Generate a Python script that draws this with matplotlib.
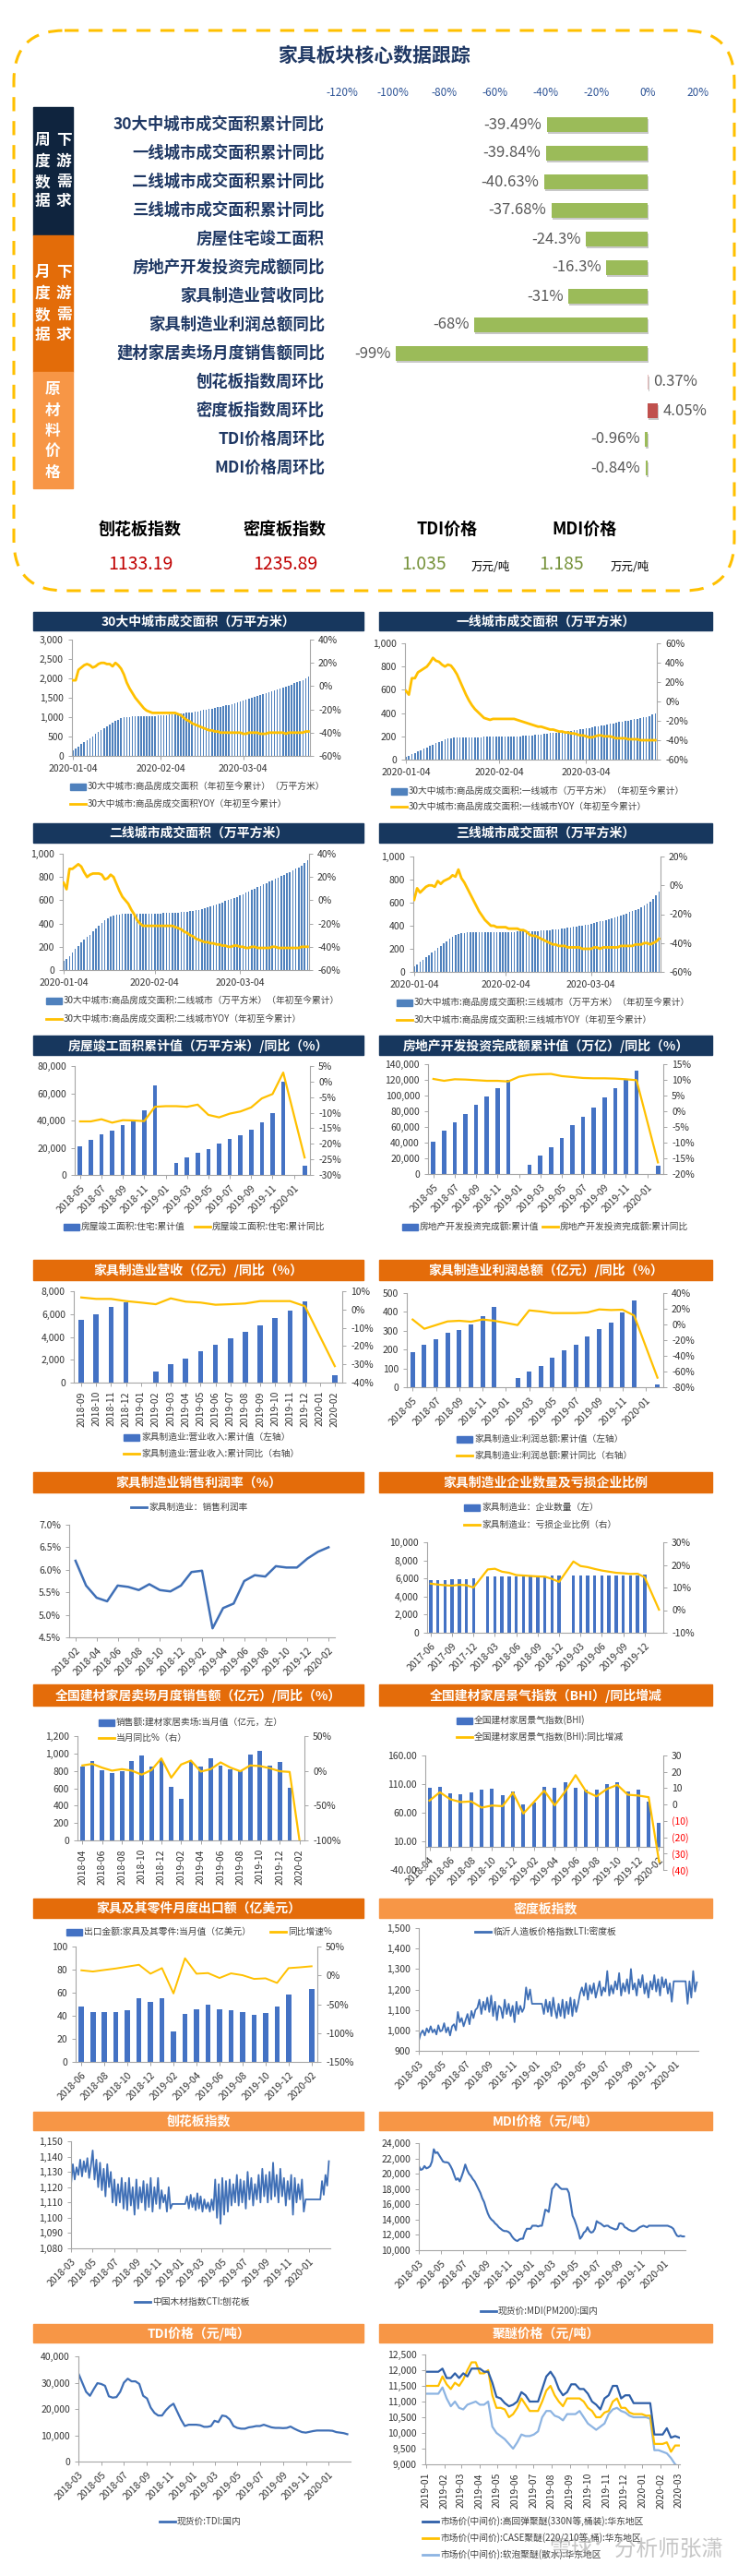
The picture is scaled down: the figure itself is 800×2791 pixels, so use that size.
import numpy as np
import pandas as pd
import matplotlib
matplotlib.use('Agg')
import matplotlib.pyplot as plt
from matplotlib.patches import Rectangle, FancyBboxPatch
from matplotlib.ticker import FuncFormatter

plt.rcParams['font.family'] = ['Noto Sans CJK SC', 'DejaVu Sans']
plt.rcParams['axes.unicode_minus'] = False

# ======================= DATA =======================
core_labels = ['30大中城市成交面积累计同比', '一线城市成交面积累计同比', '二线城市成交面积累计同比',
               '三线城市成交面积累计同比', '房屋住宅竣工面积', '房地产开发投资完成额同比',
               '家具制造业营收同比', '家具制造业利润总额同比', '建材家居卖场月度销售额同比',
               '刨花板指数周环比', '密度板指数周环比', 'TDI价格周环比', 'MDI价格周环比']
core_values = [-39.49, -39.84, -40.63, -37.68, -24.3, -16.3, -31, -68, -99, 0.37, 4.05, -0.96, -0.84]
core_texts = ['-39.49%', '-39.84%', '-40.63%', '-37.68%', '-24.3%', '-16.3%', '-31%', '-68%', '-99%',
              '0.37%', '4.05%', '-0.96%', '-0.84%']
core_ticks = [-120, -100, -80, -60, -40, -20, 0, 20]
group1 = ('周度数据', '下游需求')
group2 = ('月度数据', '下游需求')
group3 = '原材料价格'

summary_names = ['刨花板指数', '密度板指数', 'TDI价格', 'MDI价格']
summary_values = ['1133.19', '1235.89', '1.035', '1.185']
summary_unit = '万元/吨'

city_start = '2020-01-04'
city_ticks = ['2020-01-04', '2020-02-04', '2020-03-04']
c30_area = [150, 200, 250, 300, 360, 410, 460, 510, 560, 610, 660, 710, 760, 800, 850, 900, 940, 970, 990, 1000,
            1010, 1020, 1025, 1030, 1030, 1030, 1030, 1030, 1035, 1035, 1040, 1045,
            1050, 1055, 1060, 1065, 1070, 1080, 1090, 1100, 1110, 1120, 1130, 1140, 1150, 1165, 1180, 1195,
            1210, 1225, 1240, 1255, 1270, 1285, 1300, 1320, 1340, 1360, 1380, 1400, 1420,
            1445, 1470, 1495, 1520, 1545, 1570, 1595, 1620, 1645, 1670, 1695, 1720, 1745, 1770, 1795, 1820,
            1845, 1870, 1895, 1920, 1950, 1990, 2040]
c30_yoy = [5, 5, 14, 16, 18, 19, 18, 16, 17, 19, 20, 20, 19, 19, 17, 20, 18, 15, 10, 3,
           -2, -6, -10, -13, -16, -19, -21, -22,
           -23, -23, -23, -23, -23, -23, -23, -23, -23, -24,
           -25, -27, -29, -30, -32, -33, -34, -35, -36, -37, -38, -38, -39, -39, -40,
           -40, -40, -40, -40,
           -40, -40, -40, -41, -41, -40, -40, -40, -40, -41, -41, -41, -40, -40, -40, -40, -40, -40, -41, -40,
           -40, -40, -40, -40, -40, -39, -39]
t1_area = [20, 32, 44, 56, 68, 80, 92, 104, 116, 128, 140, 152, 162, 172, 180, 186, 190, 191, 192, 192,
           193, 193, 193, 194, 194, 194, 195, 195, 195, 196, 196, 197,
           197, 198, 198, 199, 200, 201, 202, 204, 206, 208, 210, 212, 215, 218, 221, 224,
           227, 230, 233, 236, 239, 242, 245, 248, 252, 256, 260, 264, 268,
           272, 277, 282, 287, 292, 297, 302, 307, 312, 317, 322, 327, 332, 337, 342, 347, 352, 357, 362, 368,
           375, 385, 395]
t1_yoy = [11, 7, 24, 24, 30, 32, 34, 36, 40, 45, 42, 41, 38, 36, 38, 37, 33, 28, 21, 14,
          7, 1, -4, -8, -11, -14, -17, -18,
          -19, -18, -18, -18, -18, -18, -18, -18, -18, -19,
          -20, -21, -22, -23, -24, -25, -26, -26, -27, -28, -29, -29, -30, -31, -31, -32, -32, -33, -33,
          -34, -35, -35, -36, -37, -37, -36, -35, -35, -36, -36, -36, -37, -38, -38, -38, -38, -39, -39, -39,
          -39, -40, -40, -40, -40, -40, -40]
t2_area = [80, 95, 120, 150, 180, 210, 240, 265, 285, 305, 330, 355, 380, 405, 425, 445, 460, 470, 478, 480,
           482, 483, 484, 484, 484, 484, 485, 485, 485, 485, 486, 486,
           487, 488, 489, 490, 491, 492, 494, 496, 498, 500, 503, 506, 509, 512, 518, 525,
           532, 540, 548, 556, 565, 574, 583, 592, 600, 610, 620, 630, 640,
           652, 664, 676, 688, 700, 712, 724, 736, 748, 760, 772, 784, 796, 808, 820, 832, 845, 858, 871, 884,
           900, 920, 945]
t2_yoy = [15, 9.5, 27, 27, 29, 31, 29, 24, 20, 22, 23, 23, 23, 22, 18, 19, 22, 20, 14, 8,
          3, 0, -3, -8, -12, -17, -20, -22,
          -22, -22, -22, -22, -22, -22, -22, -22, -22, -22,
          -23, -24, -25, -27, -28, -30, -31, -33, -34, -35, -36, -36, -37, -37, -38, -38, -39, -39, -40,
          -40, -39, -39, -40, -40, -41, -41, -40, -40, -41, -41, -41, -41, -41, -40, -40, -41, -41, -41, -41,
          -41, -41, -41, -41, -40, -40, -40]
t3_area = [50, 65, 85, 105, 125, 145, 165, 185, 205, 225, 245, 265, 285, 305, 320, 330, 337, 340, 342, 343,
           344, 344, 345, 345, 345, 345, 345, 346, 346, 346, 346, 347,
           347, 348, 348, 349, 350, 351, 352, 353, 354, 355, 356, 358, 360, 362, 364, 366,
           369, 372, 375, 378, 381, 385, 389, 393, 397, 402, 407, 412, 418,
           424, 430, 437, 444, 451, 458, 466, 474, 482, 490, 499, 508, 517, 527, 537, 548, 560, 573, 590, 610,
           635, 665, 700]
t3_yoy = [-10, -2, -5, -3, -1, 0, 0, -1, 3, 1, 3, 4, 5, 7, 6, 11, 5, 2, -2, -6,
          -10, -14, -18, -21, -24, -26, -28, -28,
          -29, -29, -29, -29, -30, -30, -30, -30, -31, -31,
          -32, -34, -35, -35, -36, -37, -38, -39, -40, -41, -41, -42, -42, -42, -43, -43, -43, -43, -43,
          -44, -44, -44, -44, -43, -43, -44, -43, -43, -43, -43, -43, -43, -42, -42, -42, -42, -42, -41, -41,
          -41, -40, -40, -41, -40, -39, -37]

nan = np.nan
# monthly, 2018-05 .. 2020-02
hc_area = [21000, 25800, 29500, 32500, 36500, 40300, 47300, 66000, nan, 9000, 13000, 16200, 19100, 23200,
           26300, 29300, 33100, 38700, 45500, 68200, nan, 7000]
hc_yoy = [-12.8, -12.8, -12.1, -13.2, -12.4, -12.5, -12.7, -8.1, -7.9, -7.9, -8.1, -7.4, -10.7, -11.5,
          -10.3, -9.6, -8.3, -5.4, -4.0, 2.9, nan, -24.4]
re_inv = [41400, 55200, 65900, 76100, 88700, 99000, 109600, 120300, nan, 12200, 23700, 33900, 45700, 61900,
          72900, 84800, 97800, 109200, 120300, 132100, nan, 10100]
re_yoy = [10.3, 9.7, 10.2, 10.1, 9.9, 9.7, 9.7, 9.5, 11.0, 11.6, 11.8, 11.9, 11.2, 10.9, 10.6, 10.5, 10.5,
          10.4, 10.2, 9.9, nan, -16.3]
# monthly, 2018-09 .. 2020-02
rev = [5470, 5980, 6660, 7060, nan, 940, 1590, 2130, 2720, 3290, 3910, 4450, 5040, 5690, 6330, 7140, nan, 650]
rev_yoy = [6.6, 5.8, 5.8, 4.6, 3.8, 2.9, 6.1, 4.3, 3.8, 2.6, 2.9, 3.3, 4.6, 4.6, 4.6, 1.8, nan, -31.0]
# monthly, 2018-05 .. 2020-02
profit = [185, 224, 253, 291, 306, 332, 379, 426, nan, 49, 83, 114, 158, 194, 227, 271, 307, 345, 399, 462, nan, 15]
profit_yoy = [6.3, -5.5, -0.8, 3.9, 4.7, 3.5, 6.3, 4.7, 2.0, -0.8, 18.0, 16.5, 14.5, 14.5, 14.5, 15.3, 19.2,
              18.4, 18.8, 11.4, nan, -67.8]
# monthly, 2018-02 .. 2020-02
margin = [6.2, 5.65, 5.38, 5.3, 5.65, 5.62, 5.55, 5.68, 5.55, 5.52, 5.65, 5.95, 5.98, 4.7, 5.15, 5.25, 5.75,
          5.88, 5.85, 6.08, 6.05, 6.05, 6.25, 6.4, 6.5]
# monthly, 2017-06 .. 2020-02
firms = [5800, 5850, 5850, 5900, 5950, 5950, 6000, nan, 6200, 6200, 6200, 6200, 6250, 6250, 6250, 6250, 6250,
         6300, 6300, nan, 6300, 6300, 6300, 6300, 6300, 6300, 6350, 6350, 6350, 6350, 6400, nan, nan]
loss_ratio = [11.7, 11.3, 11.0, 10.8, 11.2, 11.0, 10.0, 14.0, 18.0, 18.3, 17.0, 16.5, 15.5, 15.3, 15.1, 14.9,
              14.8, 13.8, 12.5, 17.0, 21.5, 19.5, 19.0, 18.2, 17.5, 17.0, 16.5, 16.3, 16.0, 16.1, 14.5, nan, 0.2]
# monthly, 2018-04 .. 2020-02
mall = [849, 908, 803, 771, 799, 915, 975, 845, 919, 616, 479, 915, 849, 940, 856, 817, 799, 986, 1032, 856,
        905, 602, nan]
mall_yoy = [7.8, 10.0, 4.6, 0.3, 2.5, 0.3, -5.4, 1.2, 17.9, -9.8, 9.1, 14.8, -1.0, 2.5, 12.2, 4.7, -0.6, 7.8,
            6.9, 3.8, -0.6, -1.5, -100.0]
bhi = [103, 105, 94, 93, 96, 101, 102, 90, 97, 74, 78, 105, 103, 113, 103, 101, 101, 110, 113, 97, 100, 79, 42]
bhi_yoy = [2.4, 7.5, 3.2, 1.5, 1.9, -1.9, -0.6, -1.0, 7.3, -5.5, 1.5, 8.5, -0.5, 8.0, 18.0, 8.0, 5.0, 9.5,
           12.0, 6.0, 5.5, 4.5, -35.0]
# monthly, 2018-06 .. 2020-02
export = [47.9, 43.3, 43.3, 43.3, 44.9, 55.6, 52.1, 55.3, 26.7, 41.7, 45.5, 49.5, 45.7, 44.9, 43.0, 40.9,
          42.8, 48.4, 58.6, nan, 63.6]
export_yoy = [8.8, 6.7, 9.4, 12.0, 15.2, 18.4, 2.9, 12.6, -31.3, 29.7, 2.9, 4.0, -4.5, 3.5, 0.3, -6.1, -5.1,
              -13.1, 12.6, 14.0, 15.8]
# six readings per month, 2018-03 .. 2020-02
mdf_index = [950, 985, 1000, 975, 1010, 990, 1020, 990, 1005, 980, 1025, 995,
             1000, 1035, 990, 1015, 975, 1020, 1030, 1000, 1090, 1040, 1060, 1020,
             1050, 1080, 1030, 1095, 1060, 1100, 1110, 1150, 1080, 1140, 1100, 1160,
             1090, 1170, 1070, 1140, 1050, 1120, 1110, 1060, 1150, 1080, 1130, 1070,
             1120, 1040, 1140, 1080, 1120, 1090, 1110, 1210, 1150, 1200, 1130, 1130,
             1130, 1130, 1130, 1130, 1080, 1150, 1090, 1140, 1070, 1160, 1100, 1060,
             1130, 1070, 1150, 1060, 1140, 1080, 1160, 1070, 1150, 1090, 1130, 1180,
             1210, 1170, 1230, 1150, 1220, 1180, 1230, 1160, 1200, 1240, 1170, 1210,
             1190, 1290, 1170, 1220, 1180, 1240, 1200, 1280, 1170, 1230, 1190, 1250,
             1180, 1300, 1200, 1230, 1170, 1250, 1210, 1270, 1180, 1230, 1160, 1240,
             1200, 1270, 1190, 1250, 1170, 1260, 1210, 1250, 1180, 1230, 1140, 1240,
             1240, 1240, 1240, 1240, 1240, 1240, 1130, 1240, 1160, 1290, 1190, 1235]
pb_index = [1122, 1135, 1125, 1133, 1128, 1138, 1127, 1137, 1130, 1139, 1126, 1134,
            1144, 1125, 1138, 1120, 1136, 1118, 1132, 1114, 1135, 1120, 1130, 1110,
            1125, 1108, 1122, 1110, 1126, 1106, 1123, 1105, 1126, 1108, 1120, 1102,
            1125, 1106, 1120, 1110, 1124, 1105, 1122, 1107, 1126, 1104, 1120, 1109,
            1126, 1106, 1118, 1110, 1115, 1104, 1120, 1106, 1109, 1109, 1109, 1109,
            1109, 1109, 1109, 1109, 1114, 1106, 1115, 1107, 1113, 1105, 1116, 1106,
            1114, 1104, 1112, 1106, 1110, 1104, 1112, 1105, 1125, 1100, 1122, 1096,
            1126, 1102, 1124, 1104, 1125, 1108, 1122, 1110, 1128, 1108, 1125, 1110,
            1124, 1106, 1130, 1112, 1126, 1108, 1122, 1112, 1128, 1110, 1132, 1114,
            1128, 1110, 1130, 1112, 1136, 1114, 1128, 1110, 1132, 1114, 1126, 1108,
            1124, 1112, 1128, 1102, 1126, 1110, 1122, 1112, 1125, 1104, 1112, 1112,
            1112, 1112, 1112, 1112, 1112, 1112, 1112, 1124, 1115, 1128, 1121, 1137]
mdi_price = [21000, 20500, 20600, 21000, 20700, 20800, 21000, 21600, 23200, 22700, 22800, 22400,
             22000, 21600, 21500, 21500, 21400, 21000, 20500, 19800, 19200, 19400, 19000, 19600,
             20300, 21200, 20500, 20000, 19700, 19300, 19000, 18500, 18000, 17500, 16800, 16300,
             15500, 14800, 14300, 14000, 13800, 13500, 13300, 13000, 12800, 12600, 12500, 12500,
             12400, 12200, 11800, 11500, 11300, 11200, 11400, 11500, 11500, 12300, 12800, 12800,
             12800, 13200, 13200, 13200, 13100, 13200, 13200, 14200, 15300, 15200, 15000, 16500,
             18000, 18300, 18700, 18500, 18200, 18000, 18000, 18000, 18000, 17500, 16000, 14500,
             14000, 13300, 12500, 11500, 11800, 12300, 12500, 13000, 12500, 12300, 12400, 12800,
             13800, 13600, 13500, 13300, 13100, 13200, 13200, 13000, 12900, 12800, 12700, 12800,
             13500, 13500, 13400, 13000, 12900, 12700, 12600, 12500, 12500, 12600, 12800, 13000,
             13100, 13200, 13100, 13000, 13200, 13200, 13200, 13200, 13200, 13200, 13200, 13200,
             13200, 13200, 13200, 13100, 13000, 12800, 12300, 11900, 11800, 11900, 11800, 11800]
# three readings per month, 2018-03 .. 2020-02
tdi_price = [33500, 30000, 26500, 25000, 27500, 29800, 29500, 28800, 24800, 24300, 24500, 26500,
             30000, 31500, 30500, 30500, 29500, 25000, 24000, 20500, 18500, 17500, 17500, 19500,
             21000, 22000, 19000, 16000, 13500, 14000, 14000, 14000, 13800, 13200, 13200, 13500,
             15500, 15000, 17500, 17200, 16000, 13500, 12800, 12500, 12500, 13000, 13200, 13500,
             13500, 14000, 13500, 13000, 12800, 12800, 12700, 12800, 13300, 12500, 11800, 11200,
             11000, 11300, 11600, 11800, 11800, 11800, 11800, 11700, 11200, 11000, 10800, 10400]
# weekly from 2019-01-01
pe_start = '2019-01-01'
pe_high = [11950, 11950, 11950, 11950, 12050, 11750, 11750, 11900, 11750, 11900, 11800, 12050, 12050, 12050,
           11950, 11950, 11600, 11150, 11100, 10950, 10850, 10900, 11000, 11300, 11200, 11000, 11000, 11000,
           11400, 11800, 11950, 11750, 11400, 11200, 11300, 11550, 11550, 11400, 11400, 11250, 11000, 10900,
           10750, 11100, 11200, 11500, 11500, 11100, 11200, 11200, 10950, 10950, 10950, 10950, 10950, 9950,
           9950, 9950, 10150, 9850, 9900, 9850]
pe_case = [11500, 11500, 11500, 11500, 11800, 11550, 11400, 11600, 11500, 11700, 12000, 12250, 12250, 11900,
           11900, 12000, 11200, 10800, 10800, 10750, 10500, 10600, 10800, 11100, 10900, 10700, 10700, 10700,
           11000, 11350, 11500, 11200, 11000, 10850, 11100, 11100, 11100, 11100, 11000, 10800, 10700, 10500,
           10500, 10650, 10700, 11000, 11100, 10800, 10800, 10650, 10600, 10600, 10600, 10550, 10550, 9650,
           9650, 9650, 9700, 9400, 9600, 9600]
pe_soft = [11250, 11250, 11250, 11250, 11450, 11100, 10850, 11000, 10800, 10750, 10900, 10950, 11000, 10900,
           10900, 11000, 10200, 10000, 9900, 9800, 9650, 9500, 9700, 9950, 9900, 9900, 9950, 10050,
           10500, 10700, 10700, 10550, 10500, 10400, 10600, 10600, 10600, 10700, 10500, 10300, 10200, 10100,
           10200, 10300, 10600, 10750, 10800, 10700, 10650, 10550, 10500, 10500, 10500, 10500, 10450, 9450,
           9450, 9400, 9350, 9200, 9000, 8900]

# ======================= HELPERS =======================
W, H = 800, 2791
fig = plt.figure(figsize=(W / 100, H / 100), dpi=100)
fig.patch.set_facecolor('white')

NAVY = '#17375E'
DOR = '#E46C0A'
LOR = '#F79646'
BLUE = '#4472C4'
BLUE1 = '#4F81BD'
LINEB = '#3F6FB6'
YEL = '#FFC000'
TXT = '#333333'
SP = '#A6A6A6'


def add_ax(x0, y0, x1, y1):
    return fig.add_axes([x0 / W, 1 - y1 / H, (x1 - x0) / W, (y1 - y0) / H])


ov = fig.add_axes([0, 0, 1, 1], zorder=10)
ov.set_xlim(0, W)
ov.set_ylim(H, 0)
ov.axis('off')


def month_labels(y, m, n):
    return [f'{y + (m - 1 + i) // 12}-{(m - 1 + i) % 12 + 1:02d}' for i in range(n)]


def month_grid(y, m, n_months, per):
    out = []
    for i in range(n_months):
        yy = y + (m - 1 + i) // 12
        mm = (m - 1 + i) % 12 + 1
        st = pd.Timestamp(yy, mm, 1)
        for k in range(per):
            out.append(st + pd.Timedelta(days=st.days_in_month * k / per))
    return pd.DatetimeIndex(out)


fmt_comma = FuncFormatter(lambda v, p: f'{v:,.0f}')
fmt_pct = FuncFormatter(lambda v, p: f'{v:.0f}%')


def style_axes(ax, ax2=None, fs=7.5):
    ax.set_facecolor('none')
    ax.spines['top'].set_visible(False)
    for s in ['left', 'bottom', 'right']:
        ax.spines[s].set_color(SP)
        ax.spines[s].set_linewidth(0.8)
    ax.tick_params(labelsize=fs, labelcolor=TXT, color=SP, length=3, width=0.7)
    ax.spines['right'].set_visible(False)
    if ax2 is not None:
        for s in ['top', 'left', 'bottom']:
            ax2.spines[s].set_visible(False)
        ax2.spines['right'].set_color(SP)
        ax2.spines['right'].set_linewidth(0.8)
        ax2.tick_params(labelsize=fs, labelcolor=TXT, color=SP, length=3, width=0.7)


def set_xt(ax, pos, labels, rot, fs=7.5):
    ax.set_xticks(pos)
    if rot == 0:
        ax.set_xticklabels(labels, fontsize=fs)
    elif rot == 90:
        ax.set_xticklabels(labels, rotation=90, fontsize=fs, ha='center', va='top')
    else:
        ax.set_xticklabels(labels, rotation=rot, ha='right', rotation_mode='anchor', fontsize=fs)


def combo(box, bars, line, ylim, ystep, y2lim, y2step, xt_pos, xt_lab, rot,
          bar_w=0.4, bar_color=BLUE, lw=1.6, xlim=None, yfmt=fmt_comma, y2fmt=fmt_pct, fs=7.5):
    ax = add_ax(*box)
    n = len(bars)
    x = np.arange(n)
    b = np.array(bars, dtype=float)
    ax.bar(x, np.where(np.isnan(b), 0, b), width=bar_w, color=bar_color, zorder=2)
    ax.set_ylim(*ylim)
    ax.set_yticks(np.arange(ylim[0], ylim[1] + ystep / 2, ystep))
    ax.yaxis.set_major_formatter(yfmt)
    ax.set_xlim(*(xlim if xlim else (-0.5, n - 0.5)))
    ax2 = ax.twinx()
    l = np.array(line, dtype=float)
    m = ~np.isnan(l)
    ax2.plot(x[m], l[m], color=YEL, lw=lw, zorder=3, solid_joinstyle='round')
    ax2.set_ylim(*y2lim)
    ax2.set_yticks(np.arange(y2lim[0], y2lim[1] + y2step / 2, y2step))
    ax2.yaxis.set_major_formatter(y2fmt)
    style_axes(ax, ax2, fs)
    set_xt(ax, xt_pos, xt_lab, rot, fs)
    return ax, ax2


def header(x0, x1, y0, y1, text, color):
    ov.add_patch(Rectangle((x0, y0), x1 - x0, y1 - y0, color=color, zorder=1))
    ov.text((x0 + x1) / 2, (y0 + y1) / 2 + 0.5, text, ha='center', va='center', fontsize=10,
            fontweight='bold', color='white', zorder=2)


def leg_bar(x, y, text, color=BLUE):
    ov.add_patch(Rectangle((x, y - 3.5), 17, 7, color=color))
    ov.text(x + 19, y, text, ha='left', va='center', fontsize=7, color='#404040')


def leg_line(x, y, text, color=YEL):
    ov.plot([x, x + 17], [y, y], color=color, lw=2)
    ov.text(x + 19, y, text, ha='left', va='center', fontsize=7, color='#404040')


# ======================= TOP PANEL =======================
ov.add_patch(FancyBboxPatch((15, 33), 781, 607, boxstyle='round,pad=0,rounding_size=55', fill=False,
                            ec='#FFC000', lw=2.2, ls=(0, (5, 3.5))))
ov.text(405, 60, '家具板块核心数据跟踪', ha='center', va='center', fontsize=15, fontweight='bold',
        color='#1F3864')

ov.add_patch(Rectangle((36, 116), 43, 139, color='#0F243E'))
ov.add_patch(Rectangle((36, 255), 43, 148, color='#E36C09'))
ov.add_patch(Rectangle((36, 403), 43, 126, color='#F79646'))
for col, xx in zip(group1, (46, 69)):
    for ch, yy in zip(col, (152, 175, 197, 218)):
        ov.text(xx, yy, ch, ha='center', va='center', fontsize=12, fontweight='bold', color='white')
for col, xx in zip(group2, (46, 69)):
    for ch, yy in zip(col, (295, 318, 341, 363)):
        ov.text(xx, yy, ch, ha='center', va='center', fontsize=12, fontweight='bold', color='white')
for ch, yy in zip(group3, (422, 445, 467, 489, 512)):
    ov.text(57, yy, ch, ha='center', va='center', fontsize=12, fontweight='bold', color='white')

core_ax = add_ax(371, 119.5, 757, 522.5)
core_ax.set_facecolor('none')
ypos = np.arange(len(core_values))
core_colors = ['#9BBB59' if v < 0 else ('#E6B9B8' if v < 1 else '#C0504D') for v in core_values]
core_ax.barh(ypos + 0.07, core_values, height=0.5, left=0.35, color='#C8C8C8', zorder=2)
core_ax.barh(ypos, core_values, height=0.5, color=core_colors, zorder=3)
core_ax.set_xlim(-120, 20)
core_ax.set_ylim(len(core_values) - 0.5, -0.5)
core_ax.xaxis.tick_top()
core_ax.set_xticks(core_ticks)
core_ax.set_xticklabels([f'{t}%' for t in core_ticks], fontsize=8.5, color='#2F5597')
core_ax.tick_params(axis='x', length=0, pad=9)
core_ax.set_yticks([])
for s in core_ax.spines.values():
    s.set_visible(False)
for i, (v, t) in enumerate(zip(core_values, core_texts)):
    if v < 0:
        core_ax.text(v - 2, i, t, ha='right', va='center', fontsize=12, color='#595959', zorder=4)
    else:
        core_ax.text(v + 2, i, t, ha='left', va='center', fontsize=12, color='#595959', zorder=4)
for i, lab in enumerate(core_labels):
    ov.text(352, 135 + 31 * i, lab, ha='right', va='center', fontsize=12.5, fontweight='bold',
            color='#1F3864')

sum_x = [152, 309, 485, 634]
for nm, xx in zip(summary_names, sum_x):
    ov.text(xx, 573, nm, ha='center', va='center', fontsize=13, fontweight='bold', color='black')
ov.text(152, 611, summary_values[0], ha='center', va='center', fontsize=14, color='#C00000')
ov.text(309, 611, summary_values[1], ha='center', va='center', fontsize=14, color='#C00000')
ov.text(460, 611, summary_values[2], ha='center', va='center', fontsize=14, color='#77933C')
ov.text(609, 611, summary_values[3], ha='center', va='center', fontsize=14, color='#77933C')
ov.text(532, 614, summary_unit, ha='center', va='center', fontsize=9, color='black')
ov.text(683, 614, summary_unit, ha='center', va='center', fontsize=9, color='black')

# ======================= HEADERS =======================
rows = [(663, 683), (892, 913), (1122, 1143), (1365, 1387), (1595, 1617), (1825, 1848), (2057, 2078),
        (2288, 2308), (2518, 2538)]
titles = [('30大中城市成交面积（万平方米）', '一线城市成交面积（万平方米）'),
          ('二线城市成交面积（万平方米）', '三线城市成交面积（万平方米）'),
          ('房屋竣工面积累计值（万平方米）/同比（%）', '房地产开发投资完成额累计值（万亿）/同比（%）'),
          ('家具制造业营收（亿元）/同比（%）', '家具制造业利润总额（亿元）/同比（%）'),
          ('家具制造业销售利润率（%）', '家具制造业企业数量及亏损企业比例'),
          ('全国建材家居卖场月度销售额（亿元）/同比（%）', '全国建材家居景气指数（BHI）/同比增减'),
          ('家具及其零件月度出口额（亿美元）', '密度板指数'),
          ('刨花板指数', 'MDI价格（元/吨）'),
          ('TDI价格（元/吨）', '聚醚价格（元/吨）')]
hcolors = [(NAVY, NAVY), (NAVY, NAVY), (NAVY, NAVY), (DOR, DOR), (DOR, DOR), (DOR, DOR), (DOR, LOR),
           (LOR, LOR), (LOR, LOR)]
for (y0, y1), (tl, tr), (cl, cr) in zip(rows, titles, hcolors):
    header(36, 394, y0, y1, tl, cl)
    header(411, 772, y0, y1, tr, cr)

# ======================= CITY CHARTS =======================
city_dates = pd.date_range(city_start, periods=len(c30_area), freq='D')
cpos = [city_dates.get_loc(pd.Timestamp(s)) for s in city_ticks]
cxl = (-0.3, len(c30_area) - 0.5)
combo((78, 693, 336, 819), c30_area, c30_yoy, (0, 3000), 500, (-60, 40), 20, cpos, city_ticks, 0,
      bar_w=0.5, bar_color=BLUE1, lw=2, xlim=cxl)
leg_bar(76, 852, '30大中城市:商品房成交面积（年初至今累计）（万平方米）', BLUE1)
leg_line(76, 871, '30大中城市:商品房成交面积YOY（年初至今累计）')

combo((439, 697, 712, 823), t1_area, t1_yoy, (0, 1000), 200, (-60, 60), 20, cpos, city_ticks, 0,
      bar_w=0.5, bar_color=BLUE1, lw=2, xlim=cxl)
leg_bar(424, 857, '30大中城市:商品房成交面积:一线城市（万平方米）（年初至今累计）', BLUE1)
leg_line(424, 874, '30大中城市:商品房成交面积:一线城市YOY（年初至今累计）')

combo((68, 925, 335, 1051), t2_area, t2_yoy, (0, 1000), 200, (-60, 40), 20, cpos, city_ticks, 0,
      bar_w=0.5, bar_color=BLUE1, lw=2, xlim=cxl)
leg_bar(50, 1084, '30大中城市:商品房成交面积:二线城市（万平方米）（年初至今累计）', BLUE1)
leg_line(50, 1104, '30大中城市:商品房成交面积:二线城市YOY（年初至今累计）')

combo((448, 928, 716, 1053), t3_area, t3_yoy, (0, 1000), 200, (-60, 20), 20, cpos, city_ticks, 0,
      bar_w=0.5, bar_color=BLUE1, lw=2, xlim=cxl)
leg_bar(430, 1086, '30大中城市:商品房成交面积:三线城市（万平方米）（年初至今累计）', BLUE1)
leg_line(430, 1105, '30大中城市:商品房成交面积:三线城市YOY（年初至今累计）')

# ======================= MONTHLY CHARTS =======================
m22 = month_labels(2018, 5, 22)
p22 = list(range(0, 22, 2))
combo((81, 1155, 336, 1273), hc_area, hc_yoy, (0, 80000), 20000, (-30, 5), 5, p22, [m22[i] for i in p22], 45)
leg_bar(69, 1329, '房屋竣工面积:住宅:累计值')
leg_line(211, 1329, '房屋竣工面积:住宅:累计同比')

combo((464, 1153, 719, 1272), re_inv, re_yoy, (0, 140000), 20000, (-20, 15), 5, p22, [m22[i] for i in p22], 45)
leg_bar(436, 1329, '房地产开发投资完成额:累计值')
leg_line(588, 1329, '房地产开发投资完成额:累计同比')

m18 = month_labels(2018, 9, 18)
combo((80, 1399, 371, 1498), rev, rev_yoy, (0, 8000), 2000, (-40, 10), 10, list(range(18)), m18, 90,
      bar_w=0.35)
leg_bar(134, 1557, '家具制造业:营业收入:累计值（左轴）')
leg_line(134, 1575, '家具制造业:营业收入:累计同比（右轴）')

combo((441, 1401, 719, 1503), profit, profit_yoy, (0, 500), 100, (-80, 40), 20, p22, [m22[i] for i in p22], 45)
leg_bar(495, 1559, '家具制造业:利润总额:累计值（左轴）')
leg_line(495, 1577, '家具制造业:利润总额:累计同比（右轴）')

# profit margin line
m25 = month_labels(2018, 2, 25)
ax = add_ax(75, 1652, 363, 1774)
ax.plot(np.arange(len(margin)), margin, color=LINEB, lw=1.8)
ax.set_ylim(4.5, 7.0)
ax.set_yticks(np.arange(4.5, 7.01, 0.5))
ax.yaxis.set_major_formatter(FuncFormatter(lambda v, p: f'{v:.1f}%'))
ax.set_xlim(-0.6, len(margin) - 0.4)
style_axes(ax)
p25 = list(range(0, 25, 2))
set_xt(ax, p25, [m25[i] for i in p25], 45)
leg_line(142, 1633, '家具制造业：销售利润率', LINEB)

m33 = month_labels(2017, 6, 33)
p33 = list(range(0, 31, 3))
combo((463, 1671, 719, 1769), firms, loss_ratio, (0, 10000), 2000, (-10, 30), 10, p33, [m33[i] for i in p33], 45,
      bar_w=0.45, xlim=(-0.5, 32.6))
leg_bar(503, 1633, '家具制造业：企业数量（左）')
leg_line(503, 1652, '家具制造业：亏损企业比例（右）')

m23 = month_labels(2018, 4, 23)
p23 = list(range(0, 23, 2))
combo((84, 1881, 330, 1994), mall, mall_yoy, (0, 1200), 200, (-100, 50), 50, p23, [m23[i] for i in p23], 90,
      bar_w=0.45)
leg_bar(107, 1866, '销售额:建材家居卖场:当月值（亿元，左）')
leg_line(107, 1883, '当月同比%（右）')

# BHI chart
ax = add_ax(461, 1902, 719, 2026)
xb = np.arange(len(bhi))
ax.bar(xb, bhi, width=0.35, color=BLUE, zorder=2)
ax.set_ylim(-40, 160)
ax.set_yticks([-40, 10, 60, 110, 160])
ax.yaxis.set_major_formatter(FuncFormatter(lambda v, p: f'{v:.2f}'))
ax.set_xlim(-0.4, len(bhi) - 0.6)
ax2 = ax.twinx()
ax2.plot(xb, bhi_yoy, color=YEL, lw=1.6, zorder=3)
ax2.set_ylim(-40, 30)
r_ticks = list(range(-40, 31, 10))
ax2.set_yticks(r_ticks)
ax2.set_yticklabels([f'({abs(t)})' if t < 0 else f'{t}' for t in r_ticks])
style_axes(ax, ax2)
for lbl, t in zip(ax2.get_yticklabels(), r_ticks):
    lbl.set_color('#FF0000' if t < 0 else TXT)
ax.spines['bottom'].set_position(('data', 0))
set_xt(ax, p23, [m23[i] for i in p23], 45)
leg_bar(495, 1864, '全国建材家居景气指数(BHI)')
leg_line(495, 1882, '全国建材家居景气指数(BHI):同比增减')

m21 = month_labels(2018, 6, 21)
p21 = list(range(0, 21, 2))
combo((82, 2109, 344, 2234), export, export_yoy, (0, 100), 20, (-150, 50), 50, p21, [m21[i] for i in p21], 45,
      bar_w=0.45, lw=1.4)
leg_bar(72, 2093, '出口金额:家具及其零件:当月值（亿美元）')
leg_line(293, 2093, '同比增速%')


# ======================= PRICE LINES =======================
def price_chart(box, dates, vals, ylim, ystep, xl, ticks, rot=45, color=LINEB, lw=1.3):
    a = add_ax(*box)
    a.plot(dates, vals, color=color, lw=lw)
    a.set_ylim(*ylim)
    a.set_yticks(np.arange(ylim[0], ylim[1] + ystep / 2, ystep))
    a.yaxis.set_major_formatter(fmt_comma)
    a.set_xlim(*xl)
    style_axes(a)
    set_xt(a, ticks, [t.strftime('%Y-%m') for t in ticks], rot)
    return a


tick2 = pd.date_range('2018-03-01', '2020-01-01', freq='2MS')
grid6 = month_grid(2018, 3, 24, 6)
grid3 = month_grid(2018, 3, 24, 3)
xl_full = (pd.Timestamp('2018-03-01'), pd.Timestamp('2020-02-29'))

price_chart((454, 2089, 757, 2222), grid6, mdf_index, (900, 1500), 100, xl_full, tick2)
leg_line(515, 2093, '临沂人造板价格指数LTI:密度板', LINEB)

price_chart((77, 2320, 358, 2436), grid6, pb_index, (1080, 1150), 10, xl_full, tick2)
leg_line(146, 2494, '中国木材指数CTI:刨花板', LINEB)

price_chart((454, 2322, 743, 2438), grid6, mdi_price, (10000, 24000), 2000, xl_full, tick2, lw=1.5)
leg_line(521, 2504, '现货价:MDI(PM200):国内', LINEB)

price_chart((85, 2553, 380, 2667), grid3, tdi_price, (0, 40000), 10000, xl_full, tick2, lw=1.6)
leg_line(173, 2732, '现货价:TDI:国内', LINEB)

pe_dates = pd.date_range(pe_start, periods=len(pe_high), freq='7D')
ax = add_ax(461, 2551, 737, 2670)
ax.plot(pe_dates, pe_soft, color='#8DB4E2', lw=1.6)
ax.plot(pe_dates, pe_case, color=YEL, lw=1.6)
ax.plot(pe_dates, pe_high, color='#2E5FA8', lw=1.6)
ax.set_ylim(9000, 12500)
ax.set_yticks(np.arange(9000, 12501, 500))
ax.yaxis.set_major_formatter(fmt_comma)
ax.set_xlim(pd.Timestamp('2018-12-31'), pd.Timestamp('2020-03-04'))
style_axes(ax)
pe_ticks = pd.date_range('2019-01-01', '2020-03-01', freq='MS')
set_xt(ax, pe_ticks, [t.strftime('%Y-%m') for t in pe_ticks], 90)
leg_line(458, 2732, '市场价(中间价):高回弹聚醚(330N等,桶装):华东地区', '#2E5FA8')
leg_line(458, 2750, '市场价(中间价):CASE聚醚(220/210等,桶):华东地区', YEL)
leg_line(458, 2768, '市场价(中间价):软泡聚醚(散水):华东地区', '#8DB4E2')

ov.text(690, 2763, '雪球：分析师张潇', ha='center', va='center', fontsize=17, color='#A0A0A0', alpha=0.6)

fig.savefig('out.png', dpi=100)
